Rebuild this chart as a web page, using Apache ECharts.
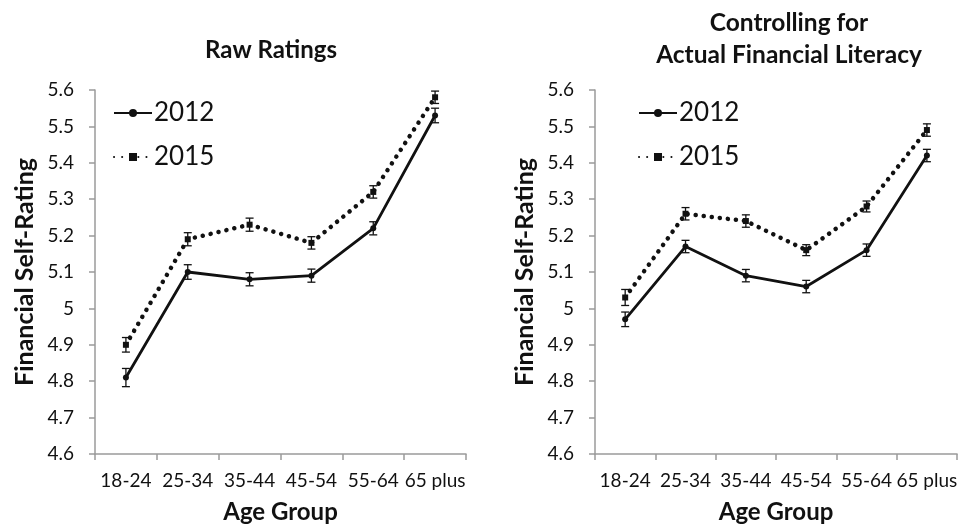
<!DOCTYPE html>
<html>
<head>
<meta charset="utf-8">
<script src="https://cdn.jsdelivr.net/npm/echarts@6/dist/echarts.min.js"></script>
<style>
  html, body { margin: 0; padding: 0; background: #fff; }
  #chart { width: 960px; height: 529px; }
</style>
</head>
<body>
<div id="chart"></div>
<script>
// age groups on the x axis
const categories = ['18-24', '25-34', '35-44', '45-54', '55-64', '65 plus']
const yTicks = { min: 4.6, max: 5.6, interval: 0.1 }

// left panel: raw ratings
const raw2012 = [4.81, 5.10, 5.08, 5.09, 5.22, 5.53]
const raw2015 = [4.90, 5.19, 5.23, 5.18, 5.32, 5.58]
const rawErr2012 = [0.025, 0.02, 0.018, 0.018, 0.018, 0.02]
const rawErr2015 = [0.02, 0.018, 0.018, 0.017, 0.017, 0.017]

// right panel: controlling for actual financial literacy
const ctl2012 = [4.97, 5.17, 5.09, 5.06, 5.16, 5.42]
const ctl2015 = [5.03, 5.26, 5.24, 5.16, 5.28, 5.49]
const ctlErr2012 = [0.02, 0.017, 0.017, 0.017, 0.017, 0.017]
const ctlErr2015 = [0.022, 0.017, 0.017, 0.015, 0.015, 0.017]

const font = 'Lato, "Open Sans", sans-serif'
const ink = '#111'
const axisGrey = '#9a9a9a'

const chart = echarts.init(document.getElementById('chart'))

function errorSeries(values, errs, idx) {
  return {
    type: 'custom',
    xAxisIndex: idx,
    yAxisIndex: idx,
    silent: true,
    z: 1,
    encode: { x: 0, y: 1 },
    data: values.map((v, i) => [i, v, errs[i]]),
    renderItem: (params, api) => {
      const i = api.value(0)
      const v = api.value(1)
      const e = api.value(2)
      const hi = api.coord([i, v + e])
      const lo = api.coord([i, v - e])
      const w = 4
      const style = { stroke: ink, lineWidth: 1.3 }
      return {
        type: 'group',
        children: [
          { type: 'line', shape: { x1: hi[0], y1: hi[1], x2: lo[0], y2: lo[1] }, style },
          { type: 'line', shape: { x1: hi[0] - w, y1: hi[1], x2: hi[0] + w, y2: hi[1] }, style },
          { type: 'line', shape: { x1: lo[0] - w, y1: lo[1], x2: lo[0] + w, y2: lo[1] }, style }
        ]
      }
    }
  }
}

function lineSeries(name, values, idx, dotted) {
  return {
    name,
    type: 'line',
    xAxisIndex: idx,
    yAxisIndex: idx,
    data: values,
    symbol: dotted ? 'rect' : 'circle',
    symbolSize: 6,
    itemStyle: { color: ink },
    lineStyle: dotted
      ? { color: ink, width: 4.5, type: [0.1, 8], cap: 'round' }
      : { color: ink, width: 2.8 },
    z: 2
  }
}

function xAxis(idx) {
  return {
    type: 'category',
    gridIndex: idx,
    data: categories,
    boundaryGap: true,
    name: 'Age Group',
    nameLocation: 'middle',
    nameGap: 46,
    nameTextStyle: { fontFamily: font, fontWeight: 'bold', fontSize: 24, color: ink },
    axisLine: { lineStyle: { color: axisGrey, width: 1.5 } },
    axisTick: { show: true, length: 6, lineStyle: { color: axisGrey, width: 1.5 } },
    axisLabel: { fontFamily: font, fontSize: 19, color: ink, margin: 17, interval: 0 },
    splitLine: { show: false }
  }
}

function yAxis(idx) {
  return {
    type: 'value',
    gridIndex: idx,
    min: yTicks.min,
    max: yTicks.max,
    interval: yTicks.interval,
    name: 'Financial Self-Rating',
    nameLocation: 'middle',
    nameGap: 58,
    nameTextStyle: { fontFamily: font, fontWeight: 'bold', fontSize: 25, color: ink },
    axisLine: { show: true, lineStyle: { color: axisGrey, width: 1.5 } },
    axisTick: { show: true, length: 6, lineStyle: { color: axisGrey, width: 1.5 } },
    axisLabel: {
      fontFamily: font, fontSize: 19, color: ink, margin: 21,
      formatter: v => String(Math.round(v * 10) / 10)
    },
    splitLine: { show: false }
  }
}

function legend(left) {
  return {
    orient: 'vertical',
    left,
    top: 95,
    itemWidth: 38,
    itemHeight: 10,
    itemGap: 18,
    data: ['2012', '2015'],
    textStyle: { fontFamily: font, fontSize: 26, color: ink, padding: [0, 0, 0, -3] },
    selectedMode: false
  }
}

const option = {
  animation: false,
  backgroundColor: '#fff',
  title: [
    {
      text: 'Raw Ratings',
      left: 266,
      top: 33,
      textAlign: 'center',
      textStyle: { fontFamily: font, fontWeight: 'bold', fontSize: 24, color: ink }
    },
    {
      text: 'Controlling for\nActual Financial Literacy',
      left: 784,
      top: 2,
      textAlign: 'center',
      textStyle: { fontFamily: font, fontWeight: 'bold', fontSize: 24.5, color: ink, lineHeight: 32 }
    }
  ],
  legend: [legend(108), legend(633)],
  grid: [
    { left: 95, top: 90, width: 371, height: 365 },
    { left: 595, top: 90, width: 366, height: 365 }
  ],
  xAxis: [xAxis(0), xAxis(1)],
  yAxis: [yAxis(0), yAxis(1)],
  series: [
    errorSeries(raw2012, rawErr2012, 0),
    errorSeries(raw2015, rawErr2015, 0),
    lineSeries('2012', raw2012, 0, false),
    lineSeries('2015', raw2015, 0, true),
    errorSeries(ctl2012, ctlErr2012, 1),
    errorSeries(ctl2015, ctlErr2015, 1),
    lineSeries('2012', ctl2012, 1, false),
    lineSeries('2015', ctl2015, 1, true)
  ]
}

chart.setOption(option)
</script>
</body>
</html>
